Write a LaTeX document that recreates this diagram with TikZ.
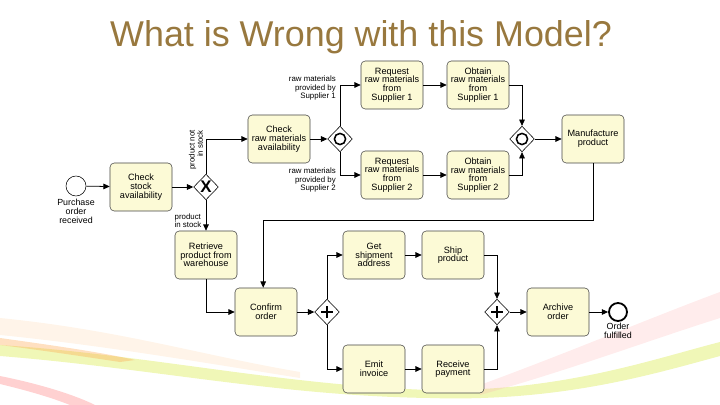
\documentclass[tikz,border=0pt]{standalone}
\usepackage{fontspec}
\setmainfont{Liberation Sans}
\usepackage{tikz}
\usetikzlibrary{positioning,arrows.meta,shapes.geometric,calc}
\definecolor{TitleBrown}{RGB}{152,120,62}
\definecolor{TaskFill}{RGB}{252,250,214}
\definecolor{TaskLine}{RGB}{70,70,70}

\begin{document}
\begin{tikzpicture}[
    x=0.025cm, y=-0.025cm,
    task/.style={rectangle, rounded corners=3pt, draw=TaskLine, fill=TaskFill,
        minimum width=1.55cm, minimum height=1.2cm, inner sep=1pt,
        font=\fontsize{6.5}{6.2}\selectfont, align=center},
    gate/.style={diamond, draw=black, fill=white, minimum width=0.62cm,
        minimum height=0.64cm, inner sep=0pt},
    orgate/.style={gate, path picture={\draw[line width=1.1pt]
        (path picture bounding box.center) circle (0.14cm);}},
    andgate/.style={gate, path picture={\draw[line width=1.3pt]
        ($(path picture bounding box.center)+(-0.15cm,0)$) -- ++(0.3cm,0)
        ($(path picture bounding box.center)+(0,-0.15cm)$) -- ++(0,0.3cm);}},
    event/.style={circle, draw=black, fill=white, minimum size=0.5cm, inner sep=0pt},
    note/.style={font=\fontsize{5.6}{5.9}\selectfont, inner sep=0pt},
    flow/.style={draw=black, line width=0.55pt, -{Triangle[length=4.5pt,width=4pt]}}
]
\useasboundingbox (0,0) rectangle (720,405);

\fill[orange!25, opacity=0.35] (0,318) .. controls (120,330) and (200,355) .. (300,372)
    -- (300,378) .. controls (200,362) and (100,345) .. (0,335) -- cycle;
\fill[yellow!80!green, opacity=0.3] (0,345) .. controls (150,355) and (280,385) .. (430,390)
    .. controls (560,392) and (650,360) .. (720,342) -- (720,356) .. controls (650,375) and (560,402) .. (430,398)
    .. controls (280,396) and (150,368) .. (0,356) -- cycle;
\fill[orange!70, opacity=0.35] (0,338) .. controls (50,345) and (100,352) .. (135,360)
    -- (120,362) .. controls (80,356) and (40,350) .. (0,345) -- cycle;
\fill[red!60, opacity=0.3] (0,376) .. controls (40,384) and (75,395) .. (95,405)
    -- (70,405) .. controls (50,397) and (25,390) .. (0,384) -- cycle;
\fill[red!30, opacity=0.25] (480,385) .. controls (570,352) and (650,318) .. (720,292)
    -- (720,318) .. controls (650,340) and (570,370) .. (480,395) -- cycle;

\node[font=\fontsize{25.5}{28}\selectfont, text=TitleBrown, anchor=base] (title) at (361,47) {What is Wrong with this Model?};

\node[event] (start) at (76,186) {};
\node[note, align=center, anchor=north, font=\fontsize{6.3}{6.4}\selectfont] (startlbl) at (76,199) {Purchase\\order\\received};
\node[task] (chkstock) at (141,187) {Check\\stock\\availability};
\node[gate, font=\bfseries\large] (xor) at (206,187) {X};
\node[task] (chkraw) at (279,139) {Check\\raw materials\\availability};
\node[orgate] (orsplit) at (340,139) {};
\node[task] (req1) at (392,85) {Request\\raw materials\\from\\Supplier 1};
\node[task] (obt1) at (478,85) {Obtain\\raw materials\\from\\Supplier 1};
\node[task] (req2) at (392,175) {Request\\raw materials\\from\\Supplier 2};
\node[task] (obt2) at (478,175) {Obtain\\raw materials\\from\\Supplier 2};
\node[orgate] (orjoin) at (522,139) {};
\node[task] (manu) at (593,139) {Manufacture\\product};
\node[task] (retr) at (206,255) {Retrieve\\product from\\warehouse};
\node[task] (conf) at (266,312) {Confirm\\order};
\node[andgate] (andsplit) at (327,312) {};
\node[task] (addr) at (374,255) {Get\\shipment\\address};
\node[task] (ship) at (453,255) {Ship\\product};
\node[task] (emit) at (374,369) {Emit\\invoice};
\node[task] (recv) at (453,369) {Receive\\payment};
\node[andgate] (andjoin) at (497,312) {};
\node[task] (arch) at (558,312) {Archive\\order};
\node[event, line width=1.3pt, minimum size=0.45cm] (finish) at (618,312) {};
\node[note, align=center, anchor=north, font=\fontsize{6.3}{6.4}\selectfont] (finlbl) at (618,323) {Order\\fulfilled};

\node[note, align=right, rotate=90] (notstock) at (196,150) {product not\\in stock};
\node[note, align=left] (instock) at (188,221) {product\\in stock};
\node[note, align=right, anchor=east] (sup1) at (336,88) {raw materials\\provided by\\Supplier 1};
\node[note, align=right, anchor=east] (sup2) at (336,180) {raw materials\\provided by\\Supplier 2};

\coordinate (turn) at (593,220);

\draw[flow] (start) -- (chkstock);
\draw[flow] (chkstock) -- (xor);
\draw[flow] (xor.north) |- (chkraw.west);
\draw[flow] (xor.south) -- (retr.north);
\draw[flow] (chkraw) -- (orsplit);
\draw[flow] (orsplit.north) |- (req1.west);
\draw[flow] (orsplit.south) |- (req2.west);
\draw[flow] (req1) -- (obt1);
\draw[flow] (req2) -- (obt2);
\draw[flow] (obt1.east) -| (orjoin.north);
\draw[flow] (obt2.east) -| (orjoin.south);
\draw[flow] (orjoin) -- (manu);
\draw[flow] (manu.south) -- (turn) -| ([xshift=-2pt]conf.north);
\draw[flow] (retr.south) |- (conf.west);
\draw[flow] (conf) -- (andsplit);
\draw[flow] (andsplit.north) |- (addr.west);
\draw[flow] (andsplit.south) |- (emit.west);
\draw[flow] (addr) -- (ship);
\draw[flow] (emit) -- (recv);
\draw[flow] (ship.east) -| (andjoin.north);
\draw[flow] (recv.east) -| (andjoin.south);
\draw[flow] (andjoin) -- (arch);
\draw[flow] (arch) -- (finish);
\end{tikzpicture}
\end{document}
